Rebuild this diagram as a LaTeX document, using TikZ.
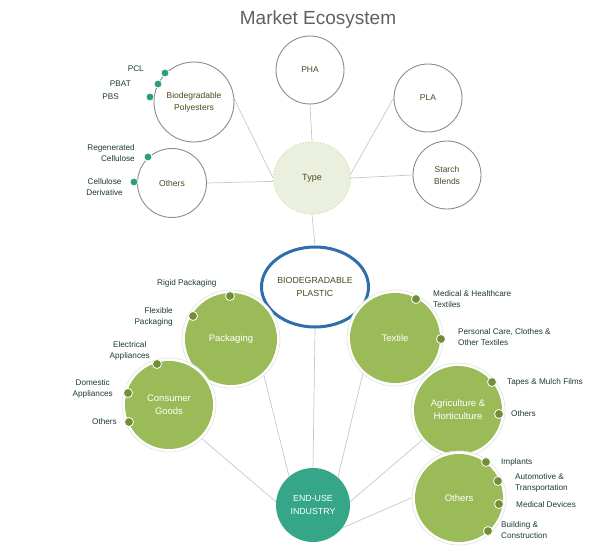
\documentclass[tikz,border=0pt]{standalone}
\usepackage{fontspec}
\setmainfont{Liberation Sans}
\usetikzlibrary{shapes.geometric,backgrounds}
\definecolor{ogreen}{HTML}{9BBB59}
\definecolor{odot}{HTML}{728F38}
\definecolor{teal1}{HTML}{36A689}
\definecolor{tdot}{HTML}{2E9C80}
\definecolor{lbl}{HTML}{1C3A38}
\definecolor{olivetxt}{HTML}{4A4A20}
\definecolor{ring}{HTML}{8C8C8C}
\definecolor{conn}{HTML}{C8C8C8}
\definecolor{typefill}{HTML}{EBF0DE}
\definecolor{typeline}{HTML}{C3D69B}
\definecolor{blue1}{HTML}{2F6EAA}
\definecolor{titlec}{HTML}{606060}
\begin{document}
\begin{tikzpicture}[x=1pt,y=-1pt,
 wcirc/.style={circle, draw=ring, line width=0.9pt, fill=white, inner sep=0pt, align=center, font=\fontsize{8.5}{12}\selectfont, text=olivetxt},
 halo/.style={circle, draw=black!12, line width=0.6pt, fill=white, inner sep=0pt},
 gcirc/.style={circle, fill=ogreen, inner sep=0pt, align=center, text=white, font=\fontsize{9.5}{13}\selectfont},
 gdot/.style={circle, fill=odot, draw=white, line width=0.8pt, minimum size=9pt, inner sep=0pt},
 tdotst/.style={circle, fill=tdot, draw=white, line width=0.8pt, minimum size=8pt, inner sep=0pt},
 lab/.style={text=lbl, font=\fontsize{8.2}{11}\selectfont, inner sep=0pt},
 link/.style={draw=conn, line width=0.7pt}]
\useasboundingbox (0,0) rectangle (596,551);

\node[text=titlec, font=\fontsize{19}{22}\selectfont] (title) at (318,20) {Market Ecosystem};

% Type group
\node[wcirc, minimum size=68pt] (pha) at (310,70) {PHA};
\node[wcirc, minimum size=68pt] (pla) at (428,98) {PLA};
\node[wcirc, minimum size=68pt] (starch) at (447,175) {Starch\\Blends};
\node[wcirc, minimum size=80pt] (poly) at (194,102) {Biodegradable\\Polyesters};
\node[wcirc, minimum size=69pt] (oth1) at (172,183) {Others};
\node[ellipse, fill=typefill, draw=typeline, dotted, line width=0.9pt, minimum width=77pt, minimum height=72pt, inner sep=0pt, text=olivetxt, font=\fontsize{9}{12}\selectfont] (type) at (312,178) {Type};

\node[ellipse, draw=blue1, line width=3pt, fill=white, minimum width=107pt, minimum height=80pt, inner sep=0pt, align=center, text=olivetxt, font=\fontsize{8.8}{13}\selectfont] (bio) at (315,287) {BIODEGRADABLE\\PLASTIC};

% End-use group
\node[halo, minimum size=98pt] (packH) at (231,339) {};
\node[gcirc, minimum size=92pt] (pack) at (231,339) {Packaging};
\node[halo, minimum size=96pt] (textH) at (395,338) {};
\node[gcirc, minimum size=90pt] (text) at (395,338) {Textile};
\node[halo, minimum size=94pt] (consH) at (169,405) {};
\node[gcirc, minimum size=88pt] (cons) at (169,405) {Consumer\\Goods};
\node[halo, minimum size=94pt] (agriH) at (458,410) {};
\node[gcirc, minimum size=88pt] (agri) at (458,410) {Agriculture \&\\Horticulture};
\node[halo, minimum size=94pt] (oth2H) at (459,498) {};
\node[gcirc, minimum size=88pt] (oth2) at (459,498) {Others};
\node[circle, fill=teal1, minimum size=74pt, inner sep=0pt, align=center, text=white, font=\fontsize{8.8}{13}\selectfont] (end) at (313,505) {END-USE\\INDUSTRY};

% connectors
\begin{pgfonlayer}{background}
\draw[link] (poly.4) -- (type.180);
\draw[link] (oth1.0) -- (type.185);
\draw[link] (pha.south) -- (type.north);
\draw[link] (pla.180) -- (type.6);
\draw[link] (starch.180) -- (type.0);
\draw[link] (type.south) -- (bio.north);
\draw[link] (bio.south) -- (end.north);
\draw[link] (pack.-46) -- (end.130);
\draw[link] (cons.-46) -- (end.175);
\draw[link] (text.-134) -- (end.48);
\draw[link] (agri.220) -- (end.5);
\draw[link] (oth2.178) -- (end.-38);
\end{pgfonlayer}

% teal dots and labels
\node[tdotst] (dPCL) at (165,73) {};
\node[tdotst] (dPBAT) at (158,84) {};
\node[tdotst] (dPBS) at (150,97) {};
\node[tdotst] (dReg) at (148,157) {};
\node[tdotst] (dCD) at (134,182) {};
\node[lab, anchor=east] (lPCL) at (144,69) {PCL};
\node[lab, anchor=east] (lPBAT) at (131,84) {PBAT};
\node[lab, anchor=east] (lPBS) at (119,97) {PBS};
\node[lab, anchor=east, align=right] (lReg) at (135,153) {Regenerated\\Cellulose};
\node[lab, anchor=east, align=center] (lCD) at (123,187) {Cellulose\\Derivative};

% olive dots and labels
\node[gdot] (dRig) at (230,296) {};
\node[gdot] (dFlex) at (193,316) {};
\node[gdot] (dElec) at (157,364) {};
\node[gdot] (dDom) at (128,393) {};
\node[gdot] (dCOth) at (129,422) {};
\node[gdot] (dMed) at (416,299) {};
\node[gdot] (dPers) at (441,339) {};
\node[gdot] (dTape) at (492,382) {};
\node[gdot] (dAOth) at (499,414) {};
\node[gdot] (dImp) at (486,462) {};
\node[gdot] (dAuto) at (498,481) {};
\node[gdot] (dMD) at (499,504) {};
\node[gdot] (dBld) at (488,531) {};

\node[lab, anchor=west] (lRig) at (157,283) {Rigid Packaging};
\node[lab, anchor=east, align=right] (lFlex) at (173,317) {Flexible\\Packaging};
\node[lab, anchor=east, align=center] (lElec) at (150,351) {Electrical\\Appliances};
\node[lab, anchor=east, align=center] (lDom) at (113,389) {Domestic\\Appliances};
\node[lab, anchor=east] (lCOth) at (117,422) {Others};
\node[lab, anchor=west, align=left] (lMed) at (433,299) {Medical \& Healthcare\\Textiles};
\node[lab, anchor=west, align=left] (lPers) at (458,337) {Personal Care, Clothes \&\\Other Textiles};
\node[lab, anchor=west] (lTape) at (507,382) {Tapes \& Mulch Films};
\node[lab, anchor=west] (lAOth) at (511,414) {Others};
\node[lab, anchor=west] (lImp) at (501,462) {Implants};
\node[lab, anchor=west, align=left] (lAuto) at (515,483) {Automotive \&\\Transportation};
\node[lab, anchor=west] (lMD) at (516,505) {Medical Devices};
\node[lab, anchor=west, align=left] (lBld) at (501,530) {Building \&\\Construction};
\end{tikzpicture}
\end{document}
